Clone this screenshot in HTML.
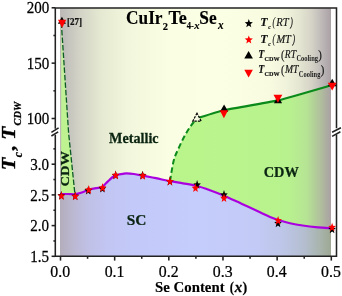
<!DOCTYPE html><html><head><meta charset="utf-8"><style>html,body{margin:0;padding:0;background:#fff}svg{display:block}</style></head><body><svg width="342" height="296" viewBox="0 0 342 296">
<defs>
<linearGradient id="gbg" x1="0" x2="1" y1="0" y2="0">
<stop offset="0" stop-color="#bbb8b6"/><stop offset="0.07" stop-color="#d2d2c6"/><stop offset="0.15" stop-color="#e5e9d1"/><stop offset="0.25" stop-color="#f2f6dc"/><stop offset="0.4" stop-color="#fafee2"/><stop offset="0.6" stop-color="#fbffe3"/><stop offset="0.775" stop-color="#f8fbe0"/><stop offset="0.83" stop-color="#f1f4db"/><stop offset="0.882" stop-color="#e5e6d2"/><stop offset="0.928" stop-color="#d5d3c7"/><stop offset="0.974" stop-color="#b9b3b4"/><stop offset="1" stop-color="#aaa1a5"/>
</linearGradient>
<linearGradient id="gsc" x1="0" x2="1" y1="0" y2="0">
<stop offset="0" stop-color="#b3adbb"/><stop offset="0.05" stop-color="#bbb8d2"/><stop offset="0.1" stop-color="#c0c0e5"/><stop offset="0.18" stop-color="#c2c6f3"/><stop offset="0.3" stop-color="#c3cafa"/><stop offset="0.5" stop-color="#c5cdfc"/><stop offset="0.72" stop-color="#c3caf6"/><stop offset="0.82" stop-color="#bec6e8"/><stop offset="0.9" stop-color="#b4bed0"/><stop offset="0.96" stop-color="#a8b4ac"/><stop offset="1" stop-color="#9ea894"/>
</linearGradient>
<linearGradient id="gcdw" x1="0" x2="1" y1="0" y2="0">
<stop offset="0" stop-color="#b6f28a"/><stop offset="0.5" stop-color="#baf58c"/><stop offset="0.84" stop-color="#b8f28e"/><stop offset="0.91" stop-color="#b6e494"/><stop offset="0.96" stop-color="#b0c09c"/><stop offset="1" stop-color="#aaa0a4"/>
</linearGradient>
<linearGradient id="gw" gradientUnits="userSpaceOnUse" x1="0" x2="0" y1="22" y2="196">
<stop offset="0" stop-color="#c6e8a8"/><stop offset="0.35" stop-color="#c2f098"/><stop offset="0.6" stop-color="#bef290"/><stop offset="1" stop-color="#c0f294"/>
</linearGradient>
<clipPath id="cR"><path d="M170,181.2 C170.63,177.72 172.32,165.88 173.80,160.30 C175.28,154.72 177.02,151.90 178.90,147.70 C180.78,143.50 183.02,138.87 185.10,135.10 C187.18,131.33 189.38,127.90 191.40,125.10 C193.42,122.30 196.23,119.43 197.20,118.30 C199.21,117.60 217.94,111.53 224.00,110.20 C230.06,108.87 269.88,102.29 278.00,100.40 C286.12,98.51 328.13,86.16 332.20,85.00 L331,85.3 L331,228.2 C328.83,228.05 322.73,227.75 318.00,227.30 C313.27,226.85 307.27,226.18 302.60,225.50 C297.93,224.82 294.07,224.12 290.00,223.20 C285.93,222.28 281.53,221.03 278.20,220.00 C274.87,218.97 273.03,218.30 270.00,217.00 C266.97,215.70 264.67,214.37 260.00,212.20 C255.33,210.03 248.00,206.75 242.00,204.00 C236.00,201.25 229.33,198.00 224.00,195.70 C218.67,193.40 214.62,191.87 210.00,190.20 C205.38,188.53 200.80,186.85 196.30,185.70 C191.80,184.55 187.38,184.05 183.00,183.30 C178.62,182.55 174.50,182.05 170.00,181.20 Z"/></clipPath>
</defs>
<rect width="342" height="296" fill="#fff"/>
<rect x="60" y="8.3" width="271" height="247.5" fill="url(#gbg)"/>
<path d="M60,194.0 C61.33,194.00 65.43,193.97 68.00,194.00 C70.57,194.03 72.97,194.50 75.40,194.20 C77.83,193.90 80.38,192.95 82.60,192.20 C84.82,191.45 86.48,190.37 88.70,189.70 C90.92,189.03 93.68,188.67 95.90,188.20 C98.12,187.73 100.32,187.73 102.00,186.90 C103.68,186.07 104.77,184.35 106.00,183.20 C107.23,182.05 108.27,181.03 109.40,180.00 C110.53,178.97 111.70,177.78 112.80,177.00 C113.90,176.22 114.88,175.73 116.00,175.30 C117.12,174.87 118.33,174.65 119.50,174.40 C120.67,174.15 121.83,173.97 123.00,173.80 C124.17,173.63 124.67,173.37 126.50,173.40 C128.33,173.43 131.28,173.63 134.00,174.00 C136.72,174.37 139.13,174.90 142.80,175.60 C146.47,176.30 151.47,177.27 156.00,178.20 C160.53,179.13 165.50,180.35 170.00,181.20 C174.50,182.05 178.62,182.55 183.00,183.30 C187.38,184.05 191.80,184.55 196.30,185.70 C200.80,186.85 205.38,188.53 210.00,190.20 C214.62,191.87 218.67,193.40 224.00,195.70 C229.33,198.00 236.00,201.25 242.00,204.00 C248.00,206.75 255.33,210.03 260.00,212.20 C264.67,214.37 266.97,215.70 270.00,217.00 C273.03,218.30 274.87,218.97 278.20,220.00 C281.53,221.03 285.93,222.28 290.00,223.20 C294.07,224.12 297.93,224.82 302.60,225.50 C307.27,226.18 313.27,226.85 318.00,227.30 C322.73,227.75 328.83,228.05 331.00,228.20 L331,256 L60,256 Z" fill="url(#gsc)"/>
<rect x="60" y="8" width="271" height="248" fill="url(#gcdw)" clip-path="url(#cR)"/>
<path d="M61.2,22 L61.5,22.5 L68.6,133 L75.1,194.5 L61.2,194.3 Z" fill="url(#gw)"/>
<path d="M61.3,22.5 L68.6,133 L75.1,196" fill="none" stroke="#0e5a26" stroke-width="1.3" stroke-dasharray="5.5,2"/>
<path d="M170,181.2 C170.63,177.72 172.32,165.88 173.80,160.30 C175.28,154.72 177.02,151.90 178.90,147.70 C180.78,143.50 183.02,138.87 185.10,135.10 C187.18,131.33 189.38,127.90 191.40,125.10 C193.42,122.30 196.23,119.43 197.20,118.30" fill="none" stroke="#0a8a1a" stroke-width="2" stroke-dasharray="5.5,3"/>
<path d="M197.2,118.2 C199.21,117.60 217.94,111.53 224.00,110.20 C230.06,108.87 269.88,102.29 278.00,100.40 C286.12,98.51 328.13,86.16 332.20,85.00" fill="none" stroke="#0a8a1a" stroke-width="2.2"/>
<path d="M60,194.0 C61.33,194.00 65.43,193.97 68.00,194.00 C70.57,194.03 72.97,194.50 75.40,194.20 C77.83,193.90 80.38,192.95 82.60,192.20 C84.82,191.45 86.48,190.37 88.70,189.70 C90.92,189.03 93.68,188.67 95.90,188.20 C98.12,187.73 100.32,187.73 102.00,186.90 C103.68,186.07 104.77,184.35 106.00,183.20 C107.23,182.05 108.27,181.03 109.40,180.00 C110.53,178.97 111.70,177.78 112.80,177.00 C113.90,176.22 114.88,175.73 116.00,175.30 C117.12,174.87 118.33,174.65 119.50,174.40 C120.67,174.15 121.83,173.97 123.00,173.80 C124.17,173.63 124.67,173.37 126.50,173.40 C128.33,173.43 131.28,173.63 134.00,174.00 C136.72,174.37 139.13,174.90 142.80,175.60 C146.47,176.30 151.47,177.27 156.00,178.20 C160.53,179.13 165.50,180.35 170.00,181.20 C174.50,182.05 178.62,182.55 183.00,183.30 C187.38,184.05 191.80,184.55 196.30,185.70 C200.80,186.85 205.38,188.53 210.00,190.20 C214.62,191.87 218.67,193.40 224.00,195.70 C229.33,198.00 236.00,201.25 242.00,204.00 C248.00,206.75 255.33,210.03 260.00,212.20 C264.67,214.37 266.97,215.70 270.00,217.00 C273.03,218.30 274.87,218.97 278.20,220.00 C281.53,221.03 285.93,222.28 290.00,223.20 C294.07,224.12 297.93,224.82 302.60,225.50 C307.27,226.18 313.27,226.85 318.00,227.30 C322.73,227.75 328.83,228.05 331.00,228.20" fill="none" stroke="#aa00e0" stroke-width="2.2"/>
<g stroke="#222" stroke-width="1.55" fill="none">
<path d="M55.3,128.8 V7.9 H336.5 V128.2"/>
<path d="M55.3,134.8 V256.3 H336.5 V134.6"/>
<path d="M51.4,132.3 L58.6,127.8 M51.4,136 L58.2,131.8"/>
<path d="M332.1,132.3 L340.9,127.7 M332.1,136.4 L340.4,131.8"/>
<path d="M51.6,7.80 H55.3"/>
<path d="M51.6,63.15 H55.3"/>
<path d="M51.6,118.50 H55.3"/>
<path d="M53.4,35.48 H55.3"/>
<path d="M53.4,90.83 H55.3"/>
<path d="M51.6,164.20 H55.3"/>
<path d="M51.6,194.90 H55.3"/>
<path d="M51.6,225.60 H55.3"/>
<path d="M51.6,256.30 H55.3"/>
<path d="M53.4,148.85 H55.3"/>
<path d="M53.4,179.55 H55.3"/>
<path d="M53.4,210.25 H55.3"/>
<path d="M53.4,240.95 H55.3"/>
<path d="M60.50,256.3 V260.6"/>
<path d="M114.66,256.3 V260.6"/>
<path d="M168.82,256.3 V260.6"/>
<path d="M222.98,256.3 V260.6"/>
<path d="M277.14,256.3 V260.6"/>
<path d="M331.30,256.3 V260.6"/>
<path d="M87.58,256.3 V258.8"/>
<path d="M141.74,256.3 V258.8"/>
<path d="M195.90,256.3 V258.8"/>
<path d="M250.06,256.3 V258.8"/>
<path d="M304.22,256.3 V258.8"/>
</g>
<text transform="translate(26.68,13.40) scale(0.8550,1)" font-family="'Liberation Serif', serif" font-size="17.60" fill="#000" stroke="#000" stroke-width="0.25">200</text>
<text transform="translate(26.68,68.75) scale(0.8550,1)" font-family="'Liberation Serif', serif" font-size="17.60" fill="#000" stroke="#000" stroke-width="0.25">150</text>
<text transform="translate(26.68,124.10) scale(0.8550,1)" font-family="'Liberation Serif', serif" font-size="17.60" fill="#000" stroke="#000" stroke-width="0.25">100</text>
<text transform="translate(30.24,169.90) scale(0.8550,1)" font-family="'Liberation Serif', serif" font-size="17.60" fill="#000" stroke="#000" stroke-width="0.25">3.0</text>
<text transform="translate(30.24,200.60) scale(0.8550,1)" font-family="'Liberation Serif', serif" font-size="17.60" fill="#000" stroke="#000" stroke-width="0.25">2.5</text>
<text transform="translate(30.24,231.30) scale(0.8550,1)" font-family="'Liberation Serif', serif" font-size="17.60" fill="#000" stroke="#000" stroke-width="0.25">2.0</text>
<text transform="translate(30.24,262.00) scale(0.8550,1)" font-family="'Liberation Serif', serif" font-size="17.60" fill="#000" stroke="#000" stroke-width="0.25">1.5</text>
<text transform="translate(50.30,277.20) scale(0.9000,1)" font-family="'Liberation Serif', serif" font-size="17.60" fill="#000" stroke="#000" stroke-width="0.25">0.0</text>
<text transform="translate(104.70,277.20) scale(0.9000,1)" font-family="'Liberation Serif', serif" font-size="17.60" fill="#000" stroke="#000" stroke-width="0.25">0.1</text>
<text transform="translate(158.78,277.20) scale(0.9000,1)" font-family="'Liberation Serif', serif" font-size="17.60" fill="#000" stroke="#000" stroke-width="0.25">0.2</text>
<text transform="translate(212.78,277.20) scale(0.9000,1)" font-family="'Liberation Serif', serif" font-size="17.60" fill="#000" stroke="#000" stroke-width="0.25">0.3</text>
<text transform="translate(266.78,277.20) scale(0.9000,1)" font-family="'Liberation Serif', serif" font-size="17.60" fill="#000" stroke="#000" stroke-width="0.25">0.4</text>
<text transform="translate(321.10,277.20) scale(0.9000,1)" font-family="'Liberation Serif', serif" font-size="17.60" fill="#000" stroke="#000" stroke-width="0.25">0.5</text>
<text transform="translate(155.06,291.80) scale(0.9752,1)" font-family="'Liberation Serif', serif" font-size="15.20" fill="#000" font-weight="bold" stroke="#000" stroke-width="0.15">Se Content</text>
<text transform="translate(229.80,291.80) scale(0.8285,1)" font-family="'Liberation Serif', serif" font-size="15.20" fill="#000" font-weight="bold" stroke="#000" stroke-width="0.20">(</text>
<text transform="translate(234.70,291.80) scale(0.9737,1)" font-family="'Liberation Serif', serif" font-size="15.20" fill="#000" font-weight="bold" font-style="italic" stroke="#000" stroke-width="0.25">x</text>
<text transform="translate(242.47,291.80) scale(0.9362,1)" font-family="'Liberation Serif', serif" font-size="15.20" fill="#000" font-weight="bold" stroke="#000" stroke-width="0.20">)</text>
<text transform="translate(126.01,24.20) scale(0.9404,1)" font-family="'Liberation Serif', serif" font-size="18.40" fill="#000" font-weight="bold" stroke="#000" stroke-width="0.15">CuIr</text>
<text transform="translate(162.78,29.70) scale(0.9883,1)" font-family="'Liberation Serif', serif" font-size="10.60" fill="#000" font-weight="bold" stroke="#000" stroke-width="0.15">2</text>
<text transform="translate(168.42,24.20) scale(0.9874,1)" font-family="'Liberation Serif', serif" font-size="18.40" fill="#000" font-weight="bold" stroke="#000" stroke-width="0.15">Te</text>
<text transform="translate(186.81,29.30) scale(0.8277,1)" font-family="'Liberation Serif', serif" font-size="10.40" fill="#000" font-weight="bold" stroke="#000" stroke-width="0.15">4-</text>
<text transform="translate(194.31,29.30) scale(1.0192,1)" font-family="'Liberation Serif', serif" font-size="10.40" fill="#000" font-weight="bold" font-style="italic" stroke="#000" stroke-width="0.15">x</text>
<text transform="translate(199.23,24.20) scale(0.9448,1)" font-family="'Liberation Serif', serif" font-size="18.40" fill="#000" font-weight="bold" stroke="#000" stroke-width="0.15">Se</text>
<text transform="translate(217.92,29.30) scale(0.9180,1)" font-family="'Liberation Serif', serif" font-size="12.20" fill="#000" font-weight="bold" font-style="italic" stroke="#000" stroke-width="0.15">x</text>
<text transform="translate(109.06,143.10) scale(0.9577,1)" font-family="'Liberation Serif', serif" font-size="14.80" fill="#0a2411" font-weight="bold" stroke="#0a2411" stroke-width="0.25">Metallic</text>
<text transform="translate(263.73,176.70) scale(0.9642,1)" font-family="'Liberation Serif', serif" font-size="14.90" fill="#0a2411" font-weight="bold" stroke="#0a2411" stroke-width="0.25">CDW</text>
<text transform="translate(126.63,225.00) scale(1.0333,1)" font-family="'Liberation Serif', serif" font-size="14.90" fill="#0a2411" font-weight="bold" stroke="#0a2411" stroke-width="0.25">SC</text>
<text transform="translate(66.97,24.50) scale(0.9743,1)" font-family="'Liberation Serif', serif" font-size="9.30" fill="#111" font-weight="bold" stroke="#111" stroke-width="0.20">[27]</text>
<text transform="translate(69.40,185.90) rotate(-90) scale(1.1290,1) translate(-0.51,0)" font-family="'Liberation Serif', serif" font-size="12.80" fill="#0a2411" font-weight="bold" stroke="#0a2411" stroke-width="0.25">CDW</text>
<text transform="translate(14.90,168.70) rotate(-90) scale(1.0720,1) translate(-1.35,0)" font-family="'Liberation Serif', serif" font-size="19.30" fill="#000" font-weight="bold" font-style="italic" stroke="#000" stroke-width="0.35">T</text>
<text transform="translate(21.60,157.20) rotate(-90) scale(0.9524,1) translate(-0.12,0)" font-family="'Liberation Serif', serif" font-size="12.00" fill="#000" font-weight="bold" font-style="italic" stroke="#000" stroke-width="0.25">c</text>
<text transform="translate(14.60,151.00) rotate(-90) scale(1.1399,1) translate(0.58,0)" font-family="'Liberation Serif', serif" font-size="19.30" fill="#000" font-weight="bold" font-style="italic" stroke="#000" stroke-width="0.30">,</text>
<text transform="translate(15.00,138.20) rotate(-90) scale(1.1077,1) translate(-1.35,0)" font-family="'Liberation Serif', serif" font-size="19.30" fill="#000" font-weight="bold" font-style="italic" stroke="#000" stroke-width="0.35">T</text>
<text transform="translate(20.80,125.20) rotate(-90) scale(0.9280,1) translate(-0.34,0)" font-family="'Liberation Serif', serif" font-size="11.20" fill="#000" font-weight="bold" font-style="italic" stroke="#000" stroke-width="0.25">CDW</text>
<text transform="translate(260.37,26.10) scale(0.9594,1)" font-family="'Liberation Serif', serif" font-size="12.40" fill="#111" font-weight="bold" font-style="italic" stroke="#111" stroke-width="0.18">T</text>
<text transform="translate(268.15,29.30) scale(0.8297,1)" font-family="'Liberation Serif', serif" font-size="6.60" fill="#111" font-weight="bold" font-style="italic" stroke="#111" stroke-width="0.18">c</text>
<text transform="translate(272.57,26.10) scale(0.6173,1)" font-family="'Liberation Serif', serif" font-size="12.60" fill="#111" font-style="italic" stroke="#111" stroke-width="0.18">(</text>
<text transform="translate(276.31,26.10) scale(0.8443,1)" font-family="'Liberation Serif', serif" font-size="12.60" fill="#111" font-style="italic" stroke="#111" stroke-width="0.18">RT</text>
<text transform="translate(290.19,26.10) scale(0.6173,1)" font-family="'Liberation Serif', serif" font-size="12.60" fill="#111" font-style="italic" stroke="#111" stroke-width="0.18">)</text>
<text transform="translate(260.37,42.60) scale(0.9594,1)" font-family="'Liberation Serif', serif" font-size="12.40" fill="#111" font-weight="bold" font-style="italic" stroke="#111" stroke-width="0.18">T</text>
<text transform="translate(268.15,45.80) scale(0.8297,1)" font-family="'Liberation Serif', serif" font-size="6.60" fill="#111" font-weight="bold" font-style="italic" stroke="#111" stroke-width="0.18">c</text>
<text transform="translate(272.57,42.60) scale(0.6173,1)" font-family="'Liberation Serif', serif" font-size="12.60" fill="#111" font-style="italic" stroke="#111" stroke-width="0.18">(</text>
<text transform="translate(276.41,42.60) scale(0.8297,1)" font-family="'Liberation Serif', serif" font-size="12.60" fill="#111" font-style="italic" stroke="#111" stroke-width="0.18">MT</text>
<text transform="translate(292.39,42.60) scale(0.6173,1)" font-family="'Liberation Serif', serif" font-size="12.60" fill="#111" font-style="italic" stroke="#111" stroke-width="0.18">)</text>
<text transform="translate(258.21,57.90) scale(0.7925,1)" font-family="'Liberation Serif', serif" font-size="12.40" fill="#111" font-weight="bold" font-style="italic" stroke="#111" stroke-width="0.18">T</text>
<text transform="translate(264.55,60.90) scale(0.9366,1)" font-family="'Liberation Serif', serif" font-size="6.60" fill="#111" font-weight="bold" stroke="#111" stroke-width="0.18">CDW</text>
<text transform="translate(280.99,58.50) scale(0.7682,1)" font-family="'Liberation Serif', serif" font-size="13.50" fill="#111" stroke="#111" stroke-width="0.18">(</text>
<text transform="translate(284.80,57.90) scale(0.8267,1)" font-family="'Liberation Serif', serif" font-size="11.60" fill="#111" font-style="italic" stroke="#111" stroke-width="0.18">RT</text>
<text transform="translate(296.44,61.30) scale(0.8981,1)" font-family="'Liberation Serif', serif" font-size="7.20" fill="#222" font-weight="bold">Cooling</text>
<text transform="translate(318.28,58.50) scale(0.7977,1)" font-family="'Liberation Serif', serif" font-size="13.50" fill="#111" stroke="#111" stroke-width="0.18">)</text>
<text transform="translate(258.21,73.40) scale(0.7925,1)" font-family="'Liberation Serif', serif" font-size="12.40" fill="#111" font-weight="bold" font-style="italic" stroke="#111" stroke-width="0.18">T</text>
<text transform="translate(264.55,76.40) scale(0.9366,1)" font-family="'Liberation Serif', serif" font-size="6.60" fill="#111" font-weight="bold" stroke="#111" stroke-width="0.18">CDW</text>
<text transform="translate(280.99,74.00) scale(0.7682,1)" font-family="'Liberation Serif', serif" font-size="13.50" fill="#111" stroke="#111" stroke-width="0.18">(</text>
<text transform="translate(284.89,73.40) scale(0.8369,1)" font-family="'Liberation Serif', serif" font-size="11.60" fill="#111" font-style="italic" stroke="#111" stroke-width="0.18">MT</text>
<text transform="translate(298.84,76.80) scale(0.8981,1)" font-family="'Liberation Serif', serif" font-size="7.20" fill="#222" font-weight="bold">Cooling</text>
<text transform="translate(320.68,74.00) scale(0.7977,1)" font-family="'Liberation Serif', serif" font-size="13.50" fill="#111" stroke="#111" stroke-width="0.18">)</text>
<polygon points="248.80,19.03 249.88,21.96 252.87,22.14 250.55,24.13 251.31,27.17 248.80,25.46 246.29,27.17 247.05,24.13 244.73,22.14 247.72,21.96" fill="#000"/>
<polygon points="248.80,35.43 249.88,38.36 252.87,38.54 250.55,40.53 251.31,43.57 248.80,41.86 246.29,43.57 247.05,40.53 244.73,38.54 247.72,38.36" fill="#f00"/>
<polygon points="248.60,51.00 244.30,58.50 252.90,58.50" fill="#000" />
<polygon points="248.60,77.40 244.30,69.80 252.90,69.80" fill="#f00" />
<polygon points="61.30,191.00 62.31,194.10 65.09,194.28 62.93,196.38 63.65,199.59 61.30,197.79 58.95,199.59 59.67,196.38 57.51,194.28 60.29,194.10" fill="#000"/>
<polygon points="75.20,191.50 76.21,194.60 78.99,194.78 76.83,196.88 77.55,200.09 75.20,198.29 72.85,200.09 73.57,196.88 71.41,194.78 74.19,194.60" fill="#000"/>
<polygon points="88.20,186.00 89.21,189.10 91.99,189.28 89.83,191.38 90.55,194.59 88.20,192.79 85.85,194.59 86.57,191.38 84.41,189.28 87.19,189.10" fill="#000"/>
<polygon points="102.40,184.00 103.41,187.10 106.19,187.28 104.03,189.38 104.75,192.59 102.40,190.79 100.05,192.59 100.77,189.38 98.61,187.28 101.39,187.10" fill="#000"/>
<polygon points="115.60,170.60 116.61,173.70 119.39,173.88 117.23,175.98 117.95,179.19 115.60,177.39 113.25,179.19 113.97,175.98 111.81,173.88 114.59,173.70" fill="#000"/>
<polygon points="142.50,170.70 143.51,173.80 146.29,173.98 144.13,176.08 144.85,179.29 142.50,177.49 140.15,179.29 140.87,176.08 138.71,173.98 141.49,173.80" fill="#000"/>
<polygon points="169.90,176.80 170.91,179.90 173.69,180.08 171.53,182.18 172.25,185.39 169.90,183.59 167.55,185.39 168.27,182.18 166.11,180.08 168.89,179.90" fill="#000"/>
<polygon points="197.10,180.10 198.11,183.20 200.89,183.38 198.73,185.48 199.45,188.69 197.10,186.89 194.75,188.69 195.47,185.48 193.31,183.38 196.09,183.20" fill="#000"/>
<polygon points="224.00,190.10 225.01,193.20 227.79,193.38 225.63,195.48 226.35,198.69 224.00,196.89 221.65,198.69 222.37,195.48 220.21,193.38 222.99,193.20" fill="#000"/>
<polygon points="278.00,218.60 279.01,221.70 281.79,221.88 279.63,223.98 280.35,227.19 278.00,225.39 275.65,227.19 276.37,223.98 274.21,221.88 276.99,221.70" fill="#000"/>
<polygon points="332.10,224.70 333.11,227.80 335.89,227.98 333.73,230.08 334.45,233.29 332.10,231.49 329.75,233.29 330.47,230.08 328.31,227.98 331.09,227.80" fill="#000"/>
<polygon points="61.50,191.30 62.51,194.40 65.29,194.58 63.13,196.68 63.85,199.89 61.50,198.09 59.15,199.89 59.87,196.68 57.71,194.58 60.49,194.40" fill="#f00"/>
<polygon points="75.30,191.70 76.31,194.80 79.09,194.98 76.93,197.08 77.65,200.29 75.30,198.49 72.95,200.29 73.67,197.08 71.51,194.98 74.29,194.80" fill="#f00"/>
<polygon points="88.80,185.10 89.81,188.20 92.59,188.38 90.43,190.48 91.15,193.69 88.80,191.89 86.45,193.69 87.17,190.48 85.01,188.38 87.79,188.20" fill="#f00"/>
<polygon points="102.60,183.10 103.61,186.20 106.39,186.38 104.23,188.48 104.95,191.69 102.60,189.89 100.25,191.69 100.97,188.48 98.81,186.38 101.59,186.20" fill="#f00"/>
<polygon points="115.70,170.70 116.71,173.80 119.49,173.98 117.33,176.08 118.05,179.29 115.70,177.49 113.35,179.29 114.07,176.08 111.91,173.98 114.69,173.80" fill="#f00"/>
<polygon points="142.80,171.20 143.81,174.30 146.59,174.48 144.43,176.58 145.15,179.79 142.80,177.99 140.45,179.79 141.17,176.58 139.01,174.48 141.79,174.30" fill="#f00"/>
<polygon points="169.90,176.80 170.91,179.90 173.69,180.08 171.53,182.18 172.25,185.39 169.90,183.59 167.55,185.39 168.27,182.18 166.11,180.08 168.89,179.90" fill="#f00"/>
<polygon points="195.50,183.50 196.51,186.60 199.29,186.78 197.13,188.88 197.85,192.09 195.50,190.29 193.15,192.09 193.87,188.88 191.71,186.78 194.49,186.60" fill="#f00"/>
<polygon points="224.00,193.50 225.01,196.60 227.79,196.78 225.63,198.88 226.35,202.09 224.00,200.29 221.65,202.09 222.37,198.88 220.21,196.78 222.99,196.60" fill="#f00"/>
<polygon points="278.10,215.90 279.11,219.00 281.89,219.18 279.73,221.28 280.45,224.49 278.10,222.69 275.75,224.49 276.47,221.28 274.31,219.18 277.09,219.00" fill="#f00"/>
<polygon points="332.10,222.70 333.11,225.80 335.89,225.98 333.73,228.08 334.45,231.29 332.10,229.49 329.75,231.29 330.47,228.08 328.31,225.98 331.09,225.80" fill="#f00"/>
<polygon points="61.90,16.80 57.90,23.80 65.90,23.80" fill="#000" />
<polygon points="62.10,27.90 58.00,19.70 66.20,19.70" fill="#f00" />
<polygon points="197.00,113.20 192.80,121.10 201.20,121.10" fill="#f6fae2" stroke="#000" stroke-width="1.2" stroke-dasharray="2.4,1.1"/>
<polygon points="224.10,104.60 219.90,111.80 228.30,111.80" fill="#000" />
<polygon points="223.90,118.20 219.70,110.30 228.10,110.30" fill="#f00" />
<polygon points="278.00,96.30 273.90,103.30 282.10,103.30" fill="#000" />
<polygon points="277.90,102.70 273.50,94.80 282.30,94.80" fill="#f00" />
<polygon points="332.20,78.80 327.90,86.20 336.50,86.20" fill="#000" />
<polygon points="332.20,90.60 327.80,82.70 336.60,82.70" fill="#f00" />
</svg></body></html>
